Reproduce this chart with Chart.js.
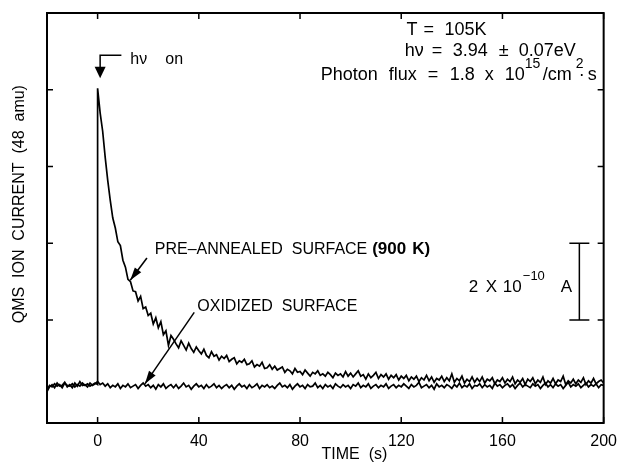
<!DOCTYPE html>
<html>
<head>
<meta charset="utf-8">
<script src="https://cdn.jsdelivr.net/npm/chart.js@4"></script>
<style>
  html, body { margin: 0; padding: 0; background: #fff; }
  #wrap { width: 626px; height: 462px; }
</style>
</head>
<body>
<div id="wrap"><canvas id="chart" width="626" height="462"></canvas></div>
<script>
// sampling of the traces (s)
const timeStep = 1;
const xTickValues = [0, 40, 80, 120, 160, 200];
// y in units of the scale bar (2 x 10^-10 A per tick)
const yTickValues = [0, 1, 2, 3, 4];

// pre-annealed surface, t = -20 .. 0 (before light on)
const preBefore = [-0.91, -0.85, -0.87, -0.83, -0.86, -0.84, -0.88, -0.82, -0.85, -0.86,
  -0.83, -0.87, -0.84, -0.86, -0.82, -0.85, -0.83, -0.86, -0.84, -0.82, -0.84];

// pre-annealed surface, t = 0 .. 200
const preAfter = [3.02, 2.70, 2.46, 2.12, 1.82, 1.56, 1.33, 1.20, 1.02, 0.97,
  0.78, 0.69, 0.53, 0.50, 0.38, 0.37, 0.25, 0.31, 0.15, 0.17,
  0.06, 0.09, -0.05, 0.03, -0.10, -0.02, -0.19, -0.14, -0.33, -0.20,
  -0.25, -0.31, -0.36, -0.27, -0.33, -0.39, -0.30, -0.37, -0.42, -0.35,
  -0.40, -0.44, -0.38, -0.46, -0.49, -0.41, -0.47, -0.45, -0.52, -0.47,
  -0.50, -0.46, -0.54, -0.51, -0.49, -0.57, -0.53, -0.55, -0.51, -0.58,
  -0.57, -0.53, -0.61, -0.58, -0.60, -0.55, -0.63, -0.62, -0.58, -0.64,
  -0.60, -0.65, -0.63, -0.61, -0.68, -0.64, -0.66, -0.70, -0.63, -0.68,
  -0.67, -0.71, -0.65, -0.69, -0.73, -0.68, -0.70, -0.66, -0.72, -0.70,
  -0.73, -0.68, -0.71, -0.75, -0.69, -0.72, -0.70, -0.74, -0.67, -0.73,
  -0.69, -0.74, -0.70, -0.66, -0.73, -0.71, -0.77, -0.70, -0.75, -0.72,
  -0.68, -0.76, -0.71, -0.74, -0.70, -0.77, -0.72, -0.75, -0.71, -0.78,
  -0.73, -0.76, -0.72, -0.79, -0.74, -0.77, -0.73, -0.80, -0.75, -0.78,
  -0.72, -0.79, -0.74, -0.81, -0.76, -0.78, -0.73, -0.80, -0.75, -0.79,
  -0.70, -0.81, -0.76, -0.79, -0.73, -0.82, -0.77, -0.80, -0.74, -0.81,
  -0.76, -0.80, -0.74, -0.82, -0.77, -0.79, -0.75, -0.83, -0.78, -0.80,
  -0.75, -0.82, -0.77, -0.80, -0.74, -0.83, -0.78, -0.81, -0.76, -0.84,
  -0.77, -0.80, -0.75, -0.83, -0.78, -0.81, -0.74, -0.84, -0.79, -0.82,
  -0.76, -0.83, -0.78, -0.80, -0.73, -0.84, -0.79, -0.82, -0.77, -0.83,
  -0.78, -0.81, -0.75, -0.84, -0.79, -0.82, -0.76, -0.83, -0.80, -0.78,
  -0.82];

// oxidized surface, t = -20 .. 200
const oxidized = [-0.93, -0.87, -0.84, -0.88, -0.82, -0.86, -0.85, -0.81, -0.87, -0.84,
  -0.88, -0.82, -0.86, -0.80, -0.85, -0.84, -0.87, -0.82, -0.85, -0.83,
  -0.80, -0.84, -0.82, -0.86, -0.83, -0.88, -0.85, -0.87, -0.83, -0.89,
  -0.85, -0.87, -0.83, -0.88, -0.86, -0.84, -0.89, -0.85, -0.82, -0.86,
  -0.84, -0.88, -0.85, -0.90, -0.84, -0.87, -0.83, -0.89, -0.86, -0.84,
  -0.88, -0.84, -0.89, -0.86, -0.82, -0.87, -0.85, -0.90, -0.86, -0.83,
  -0.87, -0.85, -0.89, -0.84, -0.88, -0.86, -0.83, -0.88, -0.85, -0.89,
  -0.86, -0.84, -0.88, -0.85, -0.90, -0.86, -0.83, -0.87, -0.85, -0.89,
  -0.84, -0.88, -0.86, -0.83, -0.89, -0.85, -0.87, -0.84, -0.88, -0.86,
  -0.89, -0.85, -0.82, -0.87, -0.85, -0.88, -0.84, -0.90, -0.86, -0.83,
  -0.87, -0.85, -0.89, -0.84, -0.87, -0.86, -0.82, -0.88, -0.85, -0.89,
  -0.84, -0.87, -0.85, -0.89, -0.83, -0.86, -0.88, -0.84, -0.87, -0.85,
  -0.89, -0.84, -0.86, -0.82, -0.88, -0.85, -0.87, -0.83, -0.89, -0.86,
  -0.84, -0.88, -0.85, -0.87, -0.83, -0.89, -0.86, -0.84, -0.88, -0.85,
  -0.87, -0.83, -0.86, -0.89, -0.84, -0.87, -0.85, -0.81, -0.88, -0.86,
  -0.84, -0.88, -0.85, -0.90, -0.83, -0.87, -0.85, -0.88, -0.84, -0.86,
  -0.89, -0.84, -0.87, -0.82, -0.88, -0.85, -0.87, -0.83, -0.89, -0.85,
  -0.86, -0.83, -0.88, -0.84, -0.87, -0.85, -0.89, -0.82, -0.86, -0.84,
  -0.88, -0.85, -0.83, -0.87, -0.84, -0.89, -0.85, -0.82, -0.87, -0.84,
  -0.86, -0.88, -0.83, -0.86, -0.84, -0.89, -0.85, -0.82, -0.87, -0.84,
  -0.88, -0.83, -0.86, -0.84, -0.89, -0.85, -0.81, -0.87, -0.84, -0.86,
  -0.83, -0.88, -0.85, -0.82, -0.87, -0.84, -0.86, -0.83, -0.88, -0.84,
  -0.85];

function toPoints(values, t0) {
  return values.map((v, i) => ({ x: t0 + i * timeStep, y: v }));
}

const FONT = '"Liberation Sans", Arial, sans-serif';

// pieces: [text, offset from x0 in px, kind] ; kind '', 'sup' or 'bold'
function drawPieces(ctx, x0, y, size, pieces) {
  ctx.textBaseline = 'middle';
  ctx.textAlign = 'left';
  pieces.forEach(p => {
    const kind = p[2] || '';
    if (kind === 'sup') {
      ctx.font = Math.round(size * 0.78) + 'px ' + FONT;
      ctx.fillText(p[0], x0 + p[1], y - size * 0.6);
    } else {
      ctx.font = (kind === 'bold' ? 'bold ' : '') + size + 'px ' + FONT;
      ctx.fillText(p[0], x0 + p[1], y);
    }
  });
}

function arrowHead(ctx, x0, y0, x1, y1, len, half) {
  const a = Math.atan2(y1 - y0, x1 - x0);
  ctx.beginPath();
  ctx.moveTo(x1, y1);
  ctx.lineTo(x1 - len * Math.cos(a) + half * Math.sin(a), y1 - len * Math.sin(a) - half * Math.cos(a));
  ctx.lineTo(x1 - len * Math.cos(a) - half * Math.sin(a), y1 - len * Math.sin(a) + half * Math.cos(a));
  ctx.closePath();
  ctx.fill();
}

const decorations = {
  id: 'decorations',
  afterDatasetsDraw(chart) {
    const ctx = chart.ctx;
    const area = chart.chartArea;
    const xs = chart.scales.x, ys = chart.scales.y;
    const X = v => xs.getPixelForValue(v);
    const Y = v => ys.getPixelForValue(v);
    ctx.save();
    ctx.strokeStyle = '#000';
    ctx.fillStyle = '#000';
    ctx.lineWidth = 2;
    ctx.strokeRect(area.left, area.top, area.right - area.left, area.bottom - area.top);

    // inward ticks
    ctx.lineWidth = 1.5;
    ctx.beginPath();
    xTickValues.forEach(v => {
      const px = X(v);
      ctx.moveTo(px, area.bottom); ctx.lineTo(px, area.bottom - 6);
      ctx.moveTo(px, area.top); ctx.lineTo(px, area.top + 6);
    });
    yTickValues.slice(0, -1).forEach(v => {
      const py = Y(v);
      ctx.moveTo(area.left, py); ctx.lineTo(area.left + 6, py);
      ctx.moveTo(area.right, py); ctx.lineTo(area.right - 6, py);
    });
    ctx.stroke();

    // h nu on marker
    ctx.beginPath();
    ctx.moveTo(X(9.4), Y(3.45));
    ctx.lineTo(X(1), Y(3.45));
    ctx.lineTo(X(1), Y(3.28));
    ctx.stroke();
    ctx.beginPath();
    ctx.moveTo(X(1) - 5.5, Y(3.30));
    ctx.lineTo(X(1) + 5.5, Y(3.30));
    ctx.lineTo(X(1), Y(3.15));
    ctx.closePath();
    ctx.fill();
    drawPieces(ctx, X(12.9), Y(3.39), 16, [['h\u03BD', 0], ['on', 35]]);

    // labels for the two traces
    drawPieces(ctx, X(22.6), Y(0.925), 16, [['PRE\u2013ANNEALED  SURFACE', 0]]);
    drawPieces(ctx, X(108.5), Y(0.925), 17, [['(900', 0, 'bold'], ['K)', 40, 'bold']]);
    ctx.beginPath();
    ctx.moveTo(X(19.5), Y(0.81)); ctx.lineTo(X(12.9), Y(0.52));
    ctx.stroke();
    arrowHead(ctx, X(19.5), Y(0.81), X(12.9), Y(0.52), 13, 4);

    drawPieces(ctx, X(39.4), Y(0.17), 16, [['OXIDIZED  SURFACE', 0]]);
    ctx.beginPath();
    ctx.moveTo(X(38.2), Y(0.10)); ctx.lineTo(X(18.7), Y(-0.83));
    ctx.stroke();
    arrowHead(ctx, X(38.2), Y(0.10), X(18.7), Y(-0.83), 13, 4);

    // conditions
    drawPieces(ctx, X(122.1), Y(3.78), 18, [['T', 0], ['=', 17], ['105K', 38]]);
    drawPieces(ctx, X(121.4), Y(3.50), 18, [['h\u03BD', 0], ['=', 27], ['3.94', 48], ['\u00B1', 94], ['0.07eV', 114]]);
    drawPieces(ctx, X(88.2), Y(3.19), 18, [['Photon', 0], ['flux', 68], ['=', 107], ['1.8', 129], ['x', 164],
      ['10', 184], ['15', 204, 'sup'], ['/cm', 222], ['2', 255, 'sup'], ['\u00B7', 258], ['s', 267]]);

    // scale bar
    const bx = X(190.4);
    ctx.lineWidth = 1.5;
    ctx.beginPath();
    ctx.moveTo(bx, Y(1)); ctx.lineTo(bx, Y(0));
    ctx.moveTo(bx - 10, Y(1)); ctx.lineTo(bx + 10, Y(1));
    ctx.moveTo(bx - 10, Y(0)); ctx.lineTo(bx + 10, Y(0));
    ctx.stroke();
    drawPieces(ctx, X(146.7), Y(0.43), 17, [['2', 0], ['X', 17], ['10', 34], ['\u221210', 54, 'sup'], ['A', 92]]);

    // axis titles
    ctx.font = '16px ' + FONT;
    ctx.textAlign = 'center';
    ctx.textBaseline = 'middle';
    ctx.fillText('TIME  (s)', X(101.5), 455);
    ctx.translate(20, Y(1.51));
    ctx.rotate(-Math.PI / 2);
    ctx.fillText('QMS  ION  CURRENT  (48  amu)', 0, 0);
    ctx.restore();
  }
};

new Chart(document.getElementById('chart'), {
  type: 'line',
  data: {
    datasets: [
      {
        label: 'Pre-annealed surface (900 K)',
        data: toPoints(preBefore, -20).concat(toPoints(preAfter, 0)),
        borderColor: '#000',
        borderWidth: 1.7,
        pointRadius: 0,
        tension: 0,
        fill: false
      },
      {
        label: 'Oxidized surface',
        data: toPoints(oxidized, -20),
        borderColor: '#000',
        borderWidth: 1.7,
        pointRadius: 0,
        tension: 0,
        fill: false
      }
    ]
  },
  options: {
    responsive: false,
    animation: false,
    layout: { padding: { top: 13, right: 16, left: 0, bottom: 0 } },
    plugins: { legend: { display: false }, tooltip: { enabled: false } },
    scales: {
      x: {
        type: 'linear',
        min: -20,
        max: 200,
        afterBuildTicks: scale => { scale.ticks = xTickValues.map(v => ({ value: v })); },
        afterFit: scale => { scale.height = 39; },
        grid: { display: false, drawTicks: false },
        border: { display: false },
        ticks: { color: '#000', font: { family: FONT, size: 16 }, padding: 9, maxRotation: 0 }
      },
      y: {
        type: 'linear',
        min: -1.34,
        max: 4,
        afterBuildTicks: scale => { scale.ticks = yTickValues.map(v => ({ value: v })); },
        afterFit: scale => { scale.width = 47; },
        grid: { display: false, drawTicks: false },
        border: { display: false },
        ticks: { display: false }
      }
    }
  },
  plugins: [decorations]
});
</script>
</body>
</html>
